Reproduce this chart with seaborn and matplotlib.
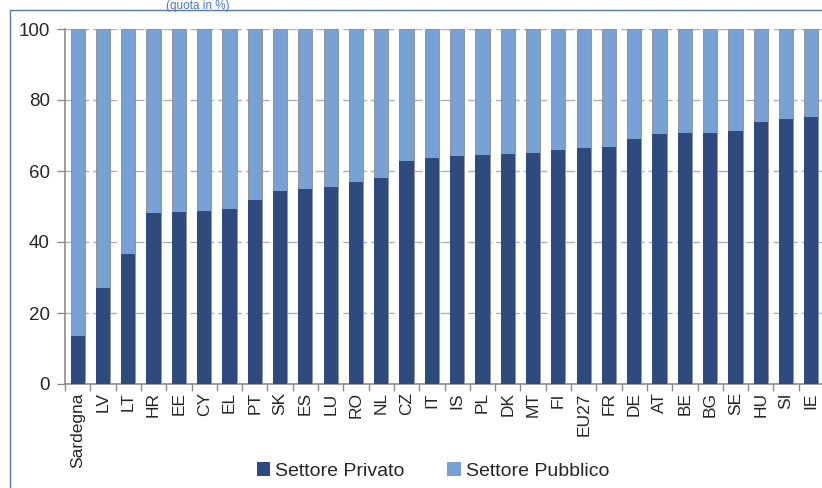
import matplotlib
matplotlib.use("Agg")
import matplotlib.pyplot as plt
import seaborn as sns
from matplotlib.patches import Patch
from matplotlib.lines import Line2D
from matplotlib.ticker import FixedLocator

paesi = ["Sardegna", "LV", "LT", "HR", "EE", "CY", "EL", "PT", "SK", "ES", "LU", "RO", "NL",
         "CZ", "IT", "IS", "PL", "DK", "MT", "FI", "EU27", "FR", "DE", "AT", "BE", "BG", "SE",
         "HU", "SI", "IE"]
privato = [13.6, 27.1, 36.7, 48.3, 48.5, 48.8, 49.3, 51.9, 54.5, 55.0, 55.6, 57.0, 57.9,
           62.9, 63.8, 64.1, 64.6, 64.9, 65.2, 66.0, 66.4, 66.7, 68.9, 70.3, 70.6, 70.8, 71.2,
           73.9, 74.7, 75.3]
pubblico = [100 - p for p in privato]
totale = [a + b for a, b in zip(privato, pubblico)]

col_priv = "#2E4A7E"
col_pubb = "#78A2D6"

sns.set_style("white")
plt.rcParams["font.family"] = ["Liberation Sans", "DejaVu Sans"]

fig = plt.figure(figsize=(8.22, 4.88), dpi=100)
ax = fig.add_axes([65 / 822, 1 - 384 / 488, 759 / 822, 355 / 488])

sns.barplot(x=paesi, y=totale, color=col_pubb, width=0.56, edgecolor="#8c8c8c",
            linewidth=0.6, saturation=1, ax=ax, zorder=2)
sns.barplot(x=paesi, y=privato, color=col_priv, width=0.56, edgecolor="none",
            saturation=1, ax=ax, zorder=3)

ax.set_xlim(-0.5, len(paesi) - 0.5)
ax.set_ylim(0, 100)
ax.set_yticks([0, 20, 40, 60, 80, 100])
ax.yaxis.grid(True, linestyle=(0, (7, 3)), color="#b0b0b0", linewidth=1)
ax.set_axisbelow(True)
for s in ["top", "right"]:
    ax.spines[s].set_visible(False)
for s in ["left", "bottom"]:
    ax.spines[s].set_color("#8c8c8c")
    ax.spines[s].set_linewidth(1.2)

ax.tick_params(axis="y", direction="out", length=6, width=1, color="#8c8c8c",
               labelsize=13.5, pad=5, left=True)
ax.tick_params(axis="x", which="major", length=0, labelsize=12.5, pad=6, rotation=90)
ax.xaxis.set_minor_locator(FixedLocator([i - 0.5 for i in range(len(paesi) + 1)]))
ax.tick_params(axis="x", which="minor", direction="out", length=5, width=1,
               color="#8c8c8c", bottom=True)
ax.set_xlabel("")
ax.set_ylabel("")

handles = [Patch(facecolor=col_priv, edgecolor="none", label="Settore Privato"),
           Patch(facecolor=col_pubb, edgecolor="none", label="Settore Pubblico")]
fig.legend(handles=handles, loc="center", bbox_to_anchor=(433 / 822, 1 - 471 / 488),
           ncol=2, frameon=False, fontsize=14, handlelength=0.7, handleheight=0.7,
           handletextpad=0.25, columnspacing=2.2)

# cornice del riquadro
fig.add_artist(Line2D([10 / 822, 10 / 822], [0, 1 - 10 / 488], color="#5a78a8", linewidth=1))
fig.add_artist(Line2D([10 / 822, 1], [1 - 10 / 488, 1 - 10 / 488], color="#5a78a8", linewidth=1))

# titolo in alto (tagliato nel riferimento)
fig.text(230 / 822, 1, "(quota in %)", color="#4a78c0", fontsize=8.5,
         ha="right", va="top")

fig.savefig("out.png", dpi=100)
